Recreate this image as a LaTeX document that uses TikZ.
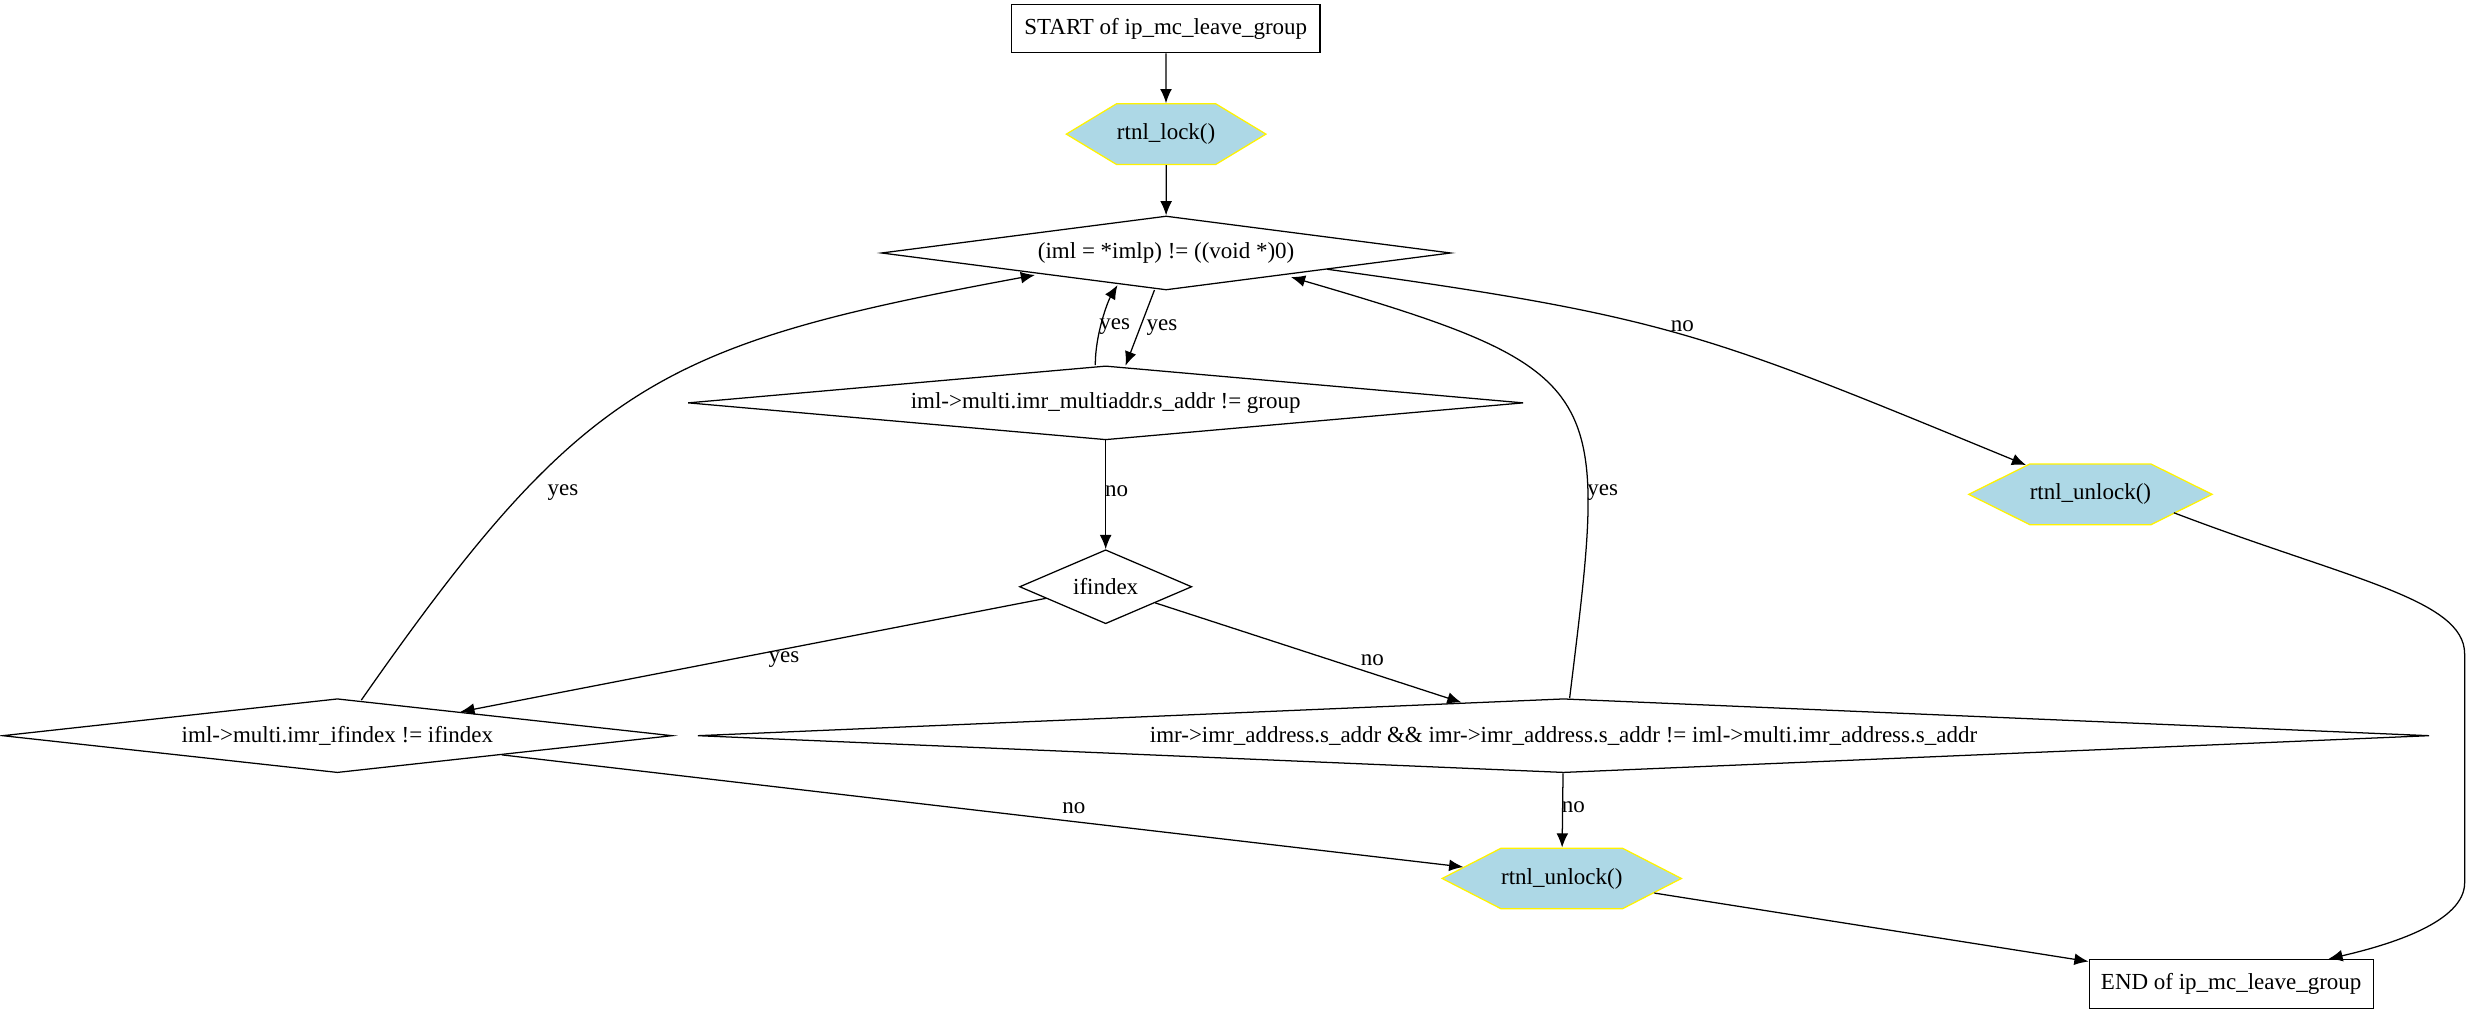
\documentclass[tikz,border=0pt]{standalone}
\usepackage{fontspec}
\setmainfont{Liberation Serif}
\usetikzlibrary{calc, shapes.geometric, shapes.symbols, arrows.meta}
\definecolor{lightblue}{RGB}{173,216,230}

\begin{document}
\begin{tikzpicture}[
          x = 1pt, y = 1pt,
          font = \fontsize{14.6}{17.5}\selectfont,
          line width = 0.8pt,
          arr/.style = {draw, -{Latex[length=9pt, width=7.5pt]}}
        ]
          \tikzstyle {block} = [draw, shape = rectangle, inner sep = 0]
          \tikzstyle {decision} = [draw, shape = diamond, inner sep = 0, minimum height = 47pt]
          \tikzstyle {call} = [draw = yellow, fill = lightblue, shape = signal, signal to = east and west, inner sep = 0, minimum height = 38.5pt]
          \tikzstyle {lbl} = [inner sep = 0]
          \useasboundingbox (0,0) rectangle (1567,643);
          % place nodes
          \path node (start) [block, minimum width = 196pt, minimum height = 30.5pt] at (740.5,624.8) {START of ip\_mc\_leave\_group};
          \path node (lock) [call, minimum width = 126.8pt, signal pointer angle = 62.3] at (740.7,557.8) {rtnl\_lock()};
          \path node (d1) [decision, minimum width = 361.7pt, shape aspect = 7.7] at (740.7,482.3) {(iml = *imlp) != ((void *)0)};
          \path node (d2) [decision, minimum width = 530.6pt, shape aspect = 11.3] at (702.3,387.1) {iml->multi.imr\_multiaddr.s\_addr != group};
          \path node (ifx) [decision, minimum width = 109.4pt, shape aspect = 2.3] at (702.3,270.3) {ifindex};
          \path node (d3) [decision, minimum width = 425.5pt, shape aspect = 9] at (214.3,175.7) {iml->multi.imr\_ifindex != ifindex};
          \path node (d4) [decision, minimum width = 1099.8pt, shape aspect = 23.3] at (993.1,175.7) {imr->imr\_address.s\_addr \&\& imr->imr\_address.s\_addr != iml->multi.imr\_address.s\_addr};
          \path node (unlockR) [call, minimum width = 153pt, signal pointer angle = 52.8] at (1327.8,329) {rtnl\_unlock()};
          \path node (unlockB) [call, minimum width = 151pt, signal pointer angle = 54.4] at (992,85) {rtnl\_unlock()};
          \path node (stop) [block, minimum width = 180.4pt, minimum height = 31pt] at (1417.2,18) {END of ip\_mc\_leave\_group};
          % place edges
          \foreach \a/\b in {start/lock, lock/d1, unlockB/stop}
            { \draw [arr] (\a) -- (\b) ; } ;
          \foreach \a/\b/\t/\p/\dx/\dy in {d2/ifx/no/.5/7/2.3, ifx/d3/yes/.447/0/-6.4, ifx/d4/no/.709/0/8.6, d3/unlockB/no/.595/0/8.8, d4/unlockB/no/.5/6.8/1.8}
            { \draw [arr] (\a) -- node (l\a\b) [lbl, pos = \p, xshift = \dx pt, yshift = \dy pt] {\t} (\b) ; } ;
          \draw [arr] ($(d1)+(-7.4,-23.5)$) -- node (yes1) [lbl, xshift = 14pt] {yes} ($(d2)+(12.6,23.6)$);
          \draw [arr] ($(d2)+(-6.6,24)$) .. controls +(0,20) and +(-6,-10) .. node (yes2) [lbl, xshift = 7.6pt, yshift = -4.8pt] {yes} ($(d1)+(-30.9,-20.4)$);
          \draw [arr] ($(d3)+(15.2,22.6)$) .. controls +(141.4,202.4) and +(-237.3,-43.9) .. node (yes3) [lbl, pos = .27, xshift = 28.2pt, yshift = 3.3pt] {yes} ($(d1)+(-83.3,-14)$);
          \draw [arr] ($(d4)+(3.9,23.8)$) .. controls +(24,197.5) and +(206.4,-60.2) .. node (yes4) [lbl, pos = .3, xshift = 9.6pt, yshift = -2.6pt] {yes} ($(d1)+(79.3,-15.3)$);
          \draw [arr] ($(d1)+(102.1,-10.3)$) .. controls +(218,-30) and +(-203.5,83.6) .. node (no1) [lbl, xshift = -1.7pt, yshift = 6pt] {no} ($(unlockR)+(-40.9,18.6)$);
          \draw [arr] ($(unlockR)+(53,-11.7)$) .. controls +(110,-42) and +(0,35) .. ++(184.7,-89.7) -- ++(0,-145.3) .. controls +(0,-25) and +(39,9) .. ($(stop.north)+(61.8,0)$);
        \end{tikzpicture}
\end{document}
